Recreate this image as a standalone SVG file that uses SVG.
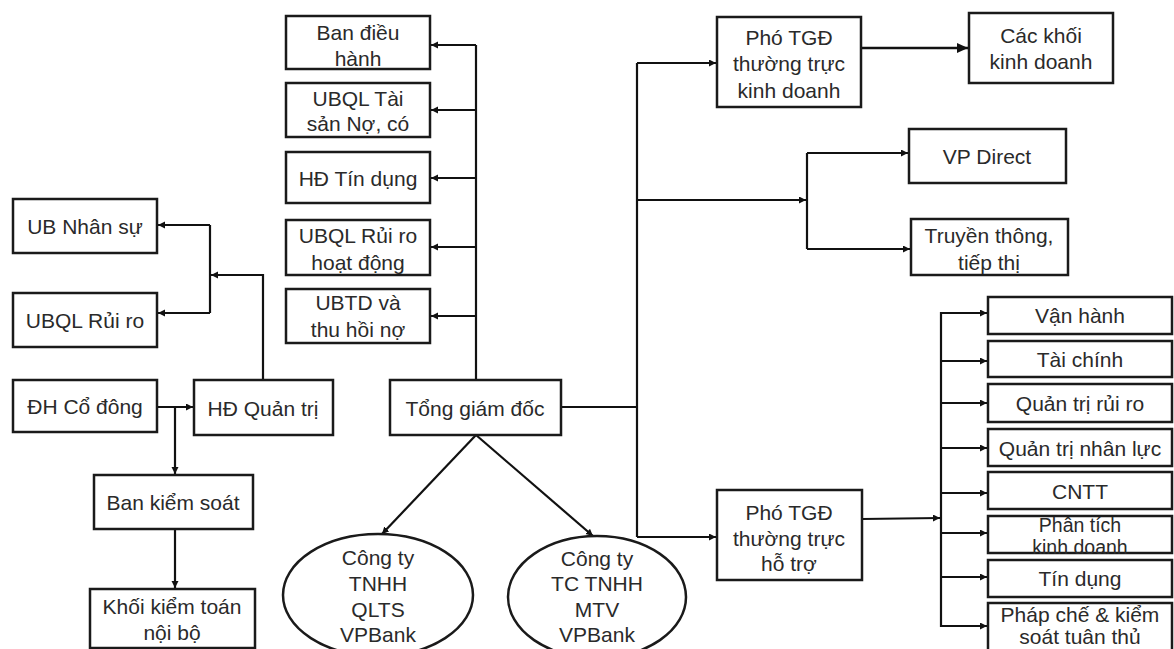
<svg xmlns="http://www.w3.org/2000/svg" width="1174" height="649" viewBox="0 0 1174 649">
<defs>
<marker id="ah" markerWidth="8" markerHeight="8" refX="7" refY="3.5" orient="auto" markerUnits="userSpaceOnUse"><path d="M0,0 L7,3.5 L0,7 z" fill="#111"/></marker>
<marker id="ahL" markerWidth="12" markerHeight="12" refX="11" refY="5" orient="auto" markerUnits="userSpaceOnUse"><path d="M0,0 L11,5 L0,10 z" fill="#111"/></marker>
</defs>
<style>
.b{fill:#fff;stroke:#1a1a1a;stroke-width:2.5}
.t{font-family:"Liberation Sans",Arial,sans-serif;font-size:21px;fill:#2a2a2a;text-anchor:middle;dominant-baseline:central}
.s{font-size:19.5px}
.c{fill:none;stroke:#111;stroke-width:2.2}
.a{marker-end:url(#ah)}
</style>
<rect width="1174" height="649" fill="#fff"/>
<g id="connectors">
<path class="c a" d="M263,380 V275 H211"/>
<path class="c" d="M210,225 V313"/>
<path class="c a" d="M210,225 H158"/>
<path class="c a" d="M210,313 H158"/>
<path class="c a" d="M157,407 H193"/>
<path class="c a" d="M175,407 V474"/>
<path class="c a" d="M175,529 V588"/>
<path class="c" d="M476,380 V45"/>
<path class="c a" d="M476,45 H431"/>
<path class="c a" d="M476,110 H431"/>
<path class="c a" d="M476,178 H431"/>
<path class="c a" d="M476,247 H431"/>
<path class="c a" d="M476,316 H431"/>
<path class="c a" d="M476,435 L382,534"/>
<path class="c a" d="M476,435 L593,536"/>
<path class="c" d="M561,407 H637"/>
<path class="c" d="M637,63 V537"/>
<path class="c a" d="M637,63 H716"/>
<path class="c a" d="M637,200 H806"/>
<path class="c" d="M807,153 V249"/>
<path class="c a" d="M807,153 H908"/>
<path class="c a" d="M807,249 H910"/>
<path class="c a" d="M637,537 H716"/>
<path class="c" d="M861,48 H968" style="stroke-width:2.5;marker-end:url(#ahL)"/>
<path class="c a" d="M862,519 L940,518"/>
<path class="c" d="M941,312 V627"/>
<path class="c a" d="M941,313 H987"/>
<path class="c a" d="M941,361 H987"/>
<path class="c a" d="M941,403 H987"/>
<path class="c a" d="M941,448 H987"/>
<path class="c a" d="M941,493 H987"/>
<path class="c a" d="M941,533 H987"/>
<path class="c a" d="M941,577 H987"/>
<path class="c a" d="M941,626 H987"/>
</g>
<g id="ub-nhan-su"><rect class="b" x="13" y="199" width="144" height="54"/><text class="t" x="85" y="226">UB Nhân sự</text></g>
<g id="ubql-rui-ro"><rect class="b" x="13" y="293" width="144" height="54"/><text class="t" x="85" y="320">UBQL Rủi ro</text></g>
<g id="dh-co-dong"><rect class="b" x="13" y="380" width="144" height="52"/><text class="t" x="85" y="406">ĐH Cổ đông</text></g>
<g id="hd-quan-tri"><rect class="b" x="194" y="380" width="139" height="55"/><text class="t" x="263" y="408">HĐ Quản trị</text></g>
<g id="ban-kiem-soat"><rect class="b" x="94" y="475" width="159" height="54"/><text class="t" x="173" y="502">Ban kiểm soát</text></g>
<g id="khoi-kiem-toan"><rect class="b" x="90" y="589" width="165" height="59"/><text class="t" x="172" y="606">Khối kiểm toán</text><text class="t" x="172" y="632">nội bộ</text></g>
<g id="ban-dieu-hanh"><rect class="b" x="286" y="16" width="144" height="53"/><text class="t" x="358" y="32">Ban điều</text><text class="t" x="358" y="58">hành</text></g>
<g id="ubql-tai-san"><rect class="b" x="286" y="83" width="144" height="54"/><text class="t" x="358" y="98">UBQL Tài</text><text class="t" x="358" y="123">sản Nợ, có</text></g>
<g id="hd-tin-dung"><rect class="b" x="286" y="152" width="144" height="51"/><text class="t" x="358" y="178">HĐ Tín dụng</text></g>
<g id="ubql-rui-ro-hd"><rect class="b" x="286" y="220" width="144" height="55"/><text class="t" x="358" y="235">UBQL Rủi ro</text><text class="t" x="358" y="262">hoạt động</text></g>
<g id="ubtd"><rect class="b" x="286" y="289" width="144" height="54"/><text class="t" x="358" y="302">UBTD và</text><text class="t" x="358" y="329">thu hồi nợ</text></g>
<g id="tong-giam-doc"><rect class="b" x="390" y="380" width="171" height="55"/><text class="t" x="475" y="408">Tổng giám đốc</text></g>
<g id="cong-ty-qlts"><ellipse class="b" cx="378" cy="595" rx="95" ry="61"/><text class="t" x="378" y="557">Công ty</text><text class="t" x="378" y="583">TNHH</text><text class="t" x="378" y="609">QLTS</text><text class="t" x="378" y="634">VPBank</text></g>
<g id="cong-ty-tc"><ellipse class="b" cx="597" cy="597" rx="89" ry="61"/><text class="t" x="597" y="558">Công ty</text><text class="t" x="597" y="583">TC TNHH</text><text class="t" x="597" y="609">MTV</text><text class="t" x="597" y="634">VPBank</text></g>
<g id="pho-tgd-kd"><rect class="b" x="717" y="17" width="144" height="90"/><text class="t" x="789" y="37">Phó TGĐ</text><text class="t" x="789" y="63">thường trực</text><text class="t" x="789" y="90">kinh doanh</text></g>
<g id="cac-khoi-kd"><rect class="b" x="969" y="13" width="144" height="70"/><text class="t" x="1041" y="35">Các khối</text><text class="t" x="1041" y="61">kinh doanh</text></g>
<g id="vp-direct"><rect class="b" x="909" y="129" width="157" height="54"/><text class="t" x="987" y="156">VP Direct</text></g>
<g id="truyen-thong"><rect class="b" x="911" y="219" width="157" height="56"/><text class="t" x="989" y="235">Truyền thông,</text><text class="t" x="989" y="262">tiếp thị</text></g>
<g id="pho-tgd-ht"><rect class="b" x="717" y="490" width="145" height="90"/><text class="t" x="789" y="512">Phó TGĐ</text><text class="t" x="789" y="538">thường trực</text><text class="t" x="789" y="563">hỗ trợ</text></g>
<g id="van-hanh"><rect class="b" x="988" y="297" width="184" height="37"/><text class="t" x="1080" y="315">Vận hành</text></g>
<g id="tai-chinh"><rect class="b" x="988" y="341" width="184" height="36"/><text class="t" x="1080" y="359">Tài chính</text></g>
<g id="quan-tri-rui-ro"><rect class="b" x="988" y="384" width="184" height="38"/><text class="t" x="1080" y="403">Quản trị rủi ro</text></g>
<g id="quan-tri-nhan-luc"><rect class="b" x="988" y="429" width="184" height="37"/><text class="t" x="1080" y="448">Quản trị nhân lực</text></g>
<g id="cntt"><rect class="b" x="988" y="472" width="184" height="37"/><text class="t" x="1080" y="491">CNTT</text></g>
<g id="phan-tich-kd"><rect class="b" x="988" y="516" width="184" height="37"/><text class="t s" x="1080" y="525">Phân tích</text><text class="t s" x="1080" y="547">kinh doanh</text></g>
<g id="tin-dung"><rect class="b" x="988" y="560" width="184" height="37"/><text class="t" x="1080" y="578">Tín dụng</text></g>
<g id="phap-che"><rect class="b" x="988" y="603" width="184" height="50"/><text class="t" x="1080" y="614">Pháp chế &amp; kiểm</text><text class="t" x="1080" y="636">soát tuân thủ</text></g>
</svg>
